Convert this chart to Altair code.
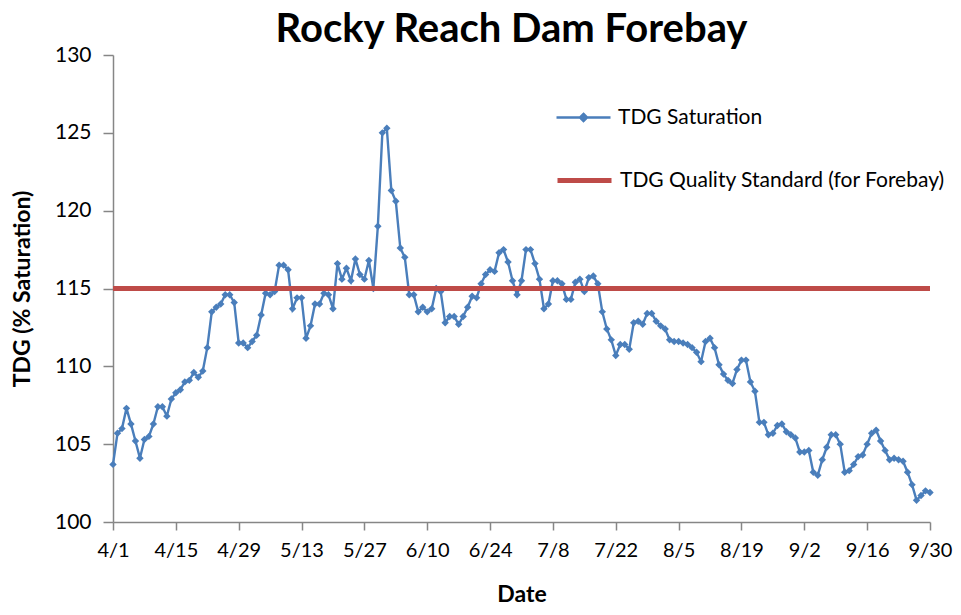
import json
import altair as alt
import pandas as pd

title_text = "Rocky Reach Dam Forebay"
series_name = "TDG Saturation"
standard_name = "TDG Quality Standard (for Forebay)"
standard_value = [115]

tick_labels = ["4/1", "4/15", "4/29", "5/13", "5/27", "6/10", "6/24",
               "7/8", "7/22", "8/5", "8/19", "9/2", "9/16", "9/30"]

tdg = [
    103.7, 105.7, 106.0, 107.3, 106.3, 105.2, 104.1, 105.3, 105.5, 106.3,
    107.4, 107.4, 106.8, 107.9, 108.3, 108.5, 109.0, 109.1, 109.6, 109.3,
    109.7, 111.2, 113.5, 113.8, 114.0, 114.6, 114.6, 114.1, 111.5, 111.5,
    111.2, 111.6, 112.0, 113.3, 114.7, 114.6, 114.8, 116.5, 116.5, 116.2,
    113.7, 114.4, 114.4, 111.8, 112.6, 114.0, 114.0, 114.7, 114.6, 113.7,
    116.6, 115.6, 116.3, 115.5, 116.9, 115.9, 115.6, 116.8, 115.0, 119.0,
    125.0, 125.3, 121.3, 120.6, 117.6, 117.0, 114.6, 114.6, 113.5, 113.8,
    113.5, 113.7, 115.0, 114.8, 112.8, 113.2, 113.2, 112.7, 113.2, 113.8,
    114.5, 114.4, 115.3, 115.9, 116.2, 116.1, 117.3, 117.5, 116.7, 115.5,
    114.6, 115.5, 117.5, 117.5, 116.6, 115.6, 113.7, 114.0, 115.5, 115.5,
    115.3, 114.3, 114.3, 115.4, 115.6, 114.8, 115.7, 115.8, 115.3, 113.5,
    112.4, 111.7, 110.7, 111.4, 111.4, 111.1, 112.8, 112.9, 112.7, 113.4,
    113.4, 112.9, 112.6, 112.4, 111.7, 111.6, 111.6, 111.5, 111.4, 111.2,
    110.9, 110.3, 111.6, 111.8, 111.2, 110.1, 109.5, 109.1, 108.9, 109.8,
    110.4, 110.4, 109.0, 108.4, 106.4, 106.4, 105.6, 105.7, 106.2, 106.3,
    105.8, 105.6, 105.4, 104.5, 104.5, 104.6, 103.2, 103.0, 104.0, 104.8,
    105.6, 105.6, 105.0, 103.2, 103.3, 103.7, 104.2, 104.3, 105.0, 105.7,
    105.9, 105.2, 104.6, 104.0, 104.1, 104.0, 103.9, 103.2, 102.4, 101.4,
    101.7, 102.0, 101.9,
]

BLUE = "#4A7EBB"
RED = "#BE4B48"
FONT = "Lato"

df = pd.DataFrame({"day": list(range(len(tdg))), "tdg": tdg, "series": series_name})
std_df = pd.DataFrame({"value": standard_value, "series": standard_name})

last_day = (len(tick_labels) - 1) * 14
label_expr = f"{json.dumps(tick_labels)}[round(datum.value / 14)]"

x_enc = alt.X(
    "day:Q",
    scale=alt.Scale(domain=[0, last_day], nice=False, zero=False),
    axis=alt.Axis(values=list(range(0, last_day + 1, 14)), labelExpr=label_expr,
                  labelOverlap=False, labelFlush=False, labelFontSize=20,
                  title="Date", grid=False,
                  tickSize=8, labelPadding=10, titlePadding=23),
)
y_enc = alt.Y(
    "tdg:Q",
    scale=alt.Scale(domain=[100, 130], nice=False, zero=False),
    axis=alt.Axis(values=[100, 105, 110, 115, 120, 125, 130],
                  title="TDG (% Saturation)", grid=False, tickSize=10,
                  labelPadding=12, titlePadding=20),
)

color_blue = alt.Color(
    "series:N",
    scale=alt.Scale(domain=[series_name], range=[BLUE]),
    legend=alt.Legend(
        title=None, orient="none", legendX=442, legendY=34, padding=0,
        symbolType="M-1,0H1M0,-0.13L0.13,0L0,0.13L-0.13,0Z",
        symbolSize=2916, symbolStrokeWidth=2.5,
        symbolFillColor=BLUE, symbolStrokeColor=BLUE,
        labelFontSize=21, labelFont=FONT, labelColor="#000000", labelOffset=6,
        labelLimit=500,
    ),
)
color_red = alt.Color(
    "series:N",
    scale=alt.Scale(domain=[standard_name], range=[RED]),
    legend=alt.Legend(
        title=None, orient="none", legendX=442, legendY=96, padding=0,
        symbolType="stroke", symbolSize=2916, symbolStrokeWidth=5,
        symbolStrokeColor=RED,
        labelFontSize=21, labelFont=FONT, labelColor="#000000", labelOffset=6,
        labelLimit=500,
    ),
)

line = alt.Chart(df).mark_line(strokeWidth=2.4).encode(x=x_enc, y=y_enc, color=color_blue)
points = alt.Chart(df).mark_point(shape="diamond", filled=True, size=55, opacity=1).encode(
    x="day:Q", y="tdg:Q", color=color_blue
)
rule = alt.Chart(std_df).mark_rule(strokeWidth=5).encode(
    y=alt.Y("value:Q"), color=color_red
)

chart = (
    alt.layer(alt.layer(line, points), rule)
    .resolve_scale(color="independent")
    .resolve_legend(color="independent")
    .properties(
        width=817, height=467,
        autosize=alt.AutoSizeParams(type="none"),
        padding={"left": 105, "top": 47, "right": 23, "bottom": 85},
        title=alt.TitleParams(title_text, font=FONT, fontSize=40, fontWeight="bold",
                              color="#000000", anchor="middle", offset=-6, dx=-10),
    )
    .configure_view(stroke=None)
    .configure_axis(
        labelFont=FONT, labelFontSize=21, labelColor="#000000",
        titleFont=FONT, titleFontSize=23, titleFontWeight="bold", titleColor="#000000",
        domainColor="#868686", tickColor="#868686", domainWidth=1.5, tickWidth=1.5,
    )
)

chart.save("out.html", embed_options={"renderer": "svg", "actions": False})
